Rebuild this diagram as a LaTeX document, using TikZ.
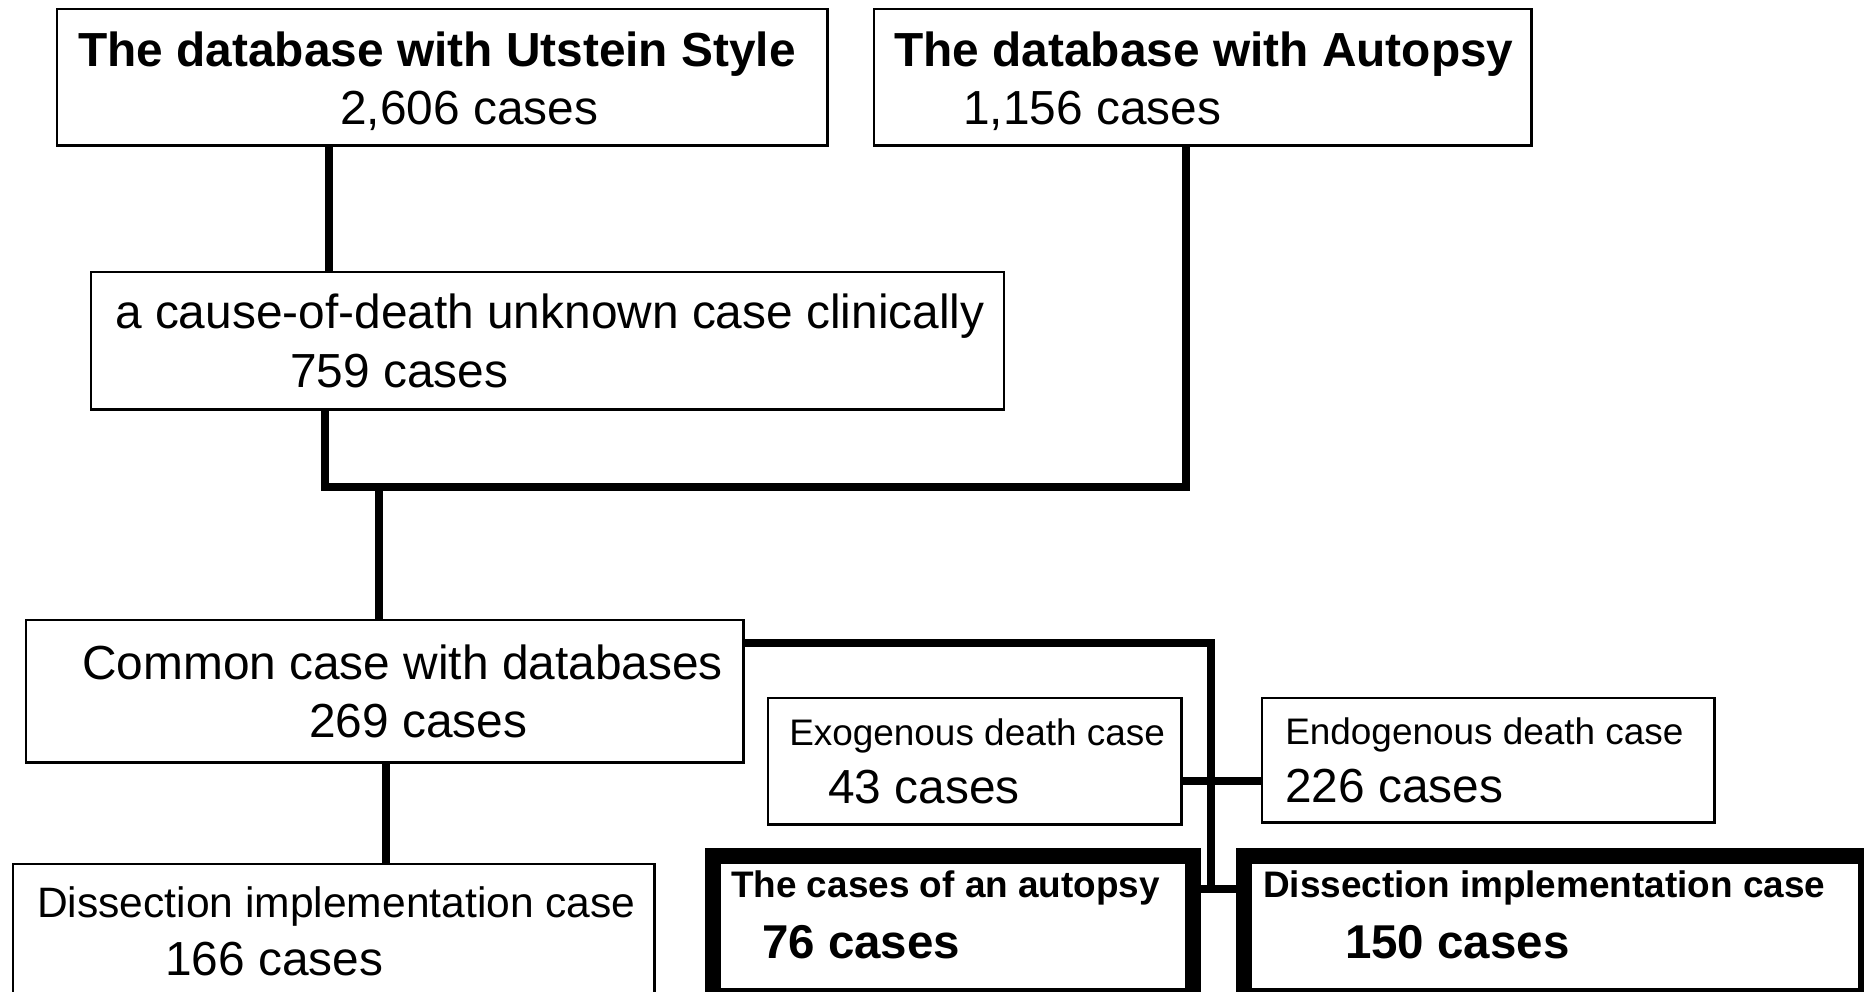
\documentclass[tikz,border=0pt]{standalone}
\usepackage{fontspec}
\setmainfont{Liberation Sans}
\newcommand{\lgtext}{\fontsize{13.6pt}{16.6pt}\selectfont}
\newcommand{\mdtext}{\fontsize{12.1pt}{16.6pt}\selectfont}
\newcommand{\smtext}{\fontsize{10.5pt}{16.6pt}\selectfont}

\begin{document}
\begin{tikzpicture}[x=0.01cm,y=-0.01cm,
  caserect/.style={draw, line width=0.7pt, anchor=north west, inner sep=0pt, align=left, font=\lgtext,
    execute at begin node={\spaceskip=0pt\xspaceskip=0pt\relax}},
  keyrect/.style={caserect, line width=4.6pt, font=\fontsize{13.5pt}{17.2pt}\selectfont\bfseries},
  link/.style={line width=2.1pt}]
\useasboundingbox (0,0) rectangle (1864,991);
\clip (0,0) rectangle (1864,991);

\node[caserect, text width=7.70cm, minimum height=1.36cm] (utst) at (56,8)
{\hspace*{0.21cm}\textbf{The database with Utstein Style}\rule{0pt}{0.42cm}\\
\hspace*{2.83cm}2,606 cases};
\node[caserect, text width=6.57cm, minimum height=1.36cm] (auto) at (873,8)
{\hspace*{0.20cm}\textbf{The database with Autopsy}\rule{0pt}{0.42cm}\\
\hspace*{0.89cm}1,156 cases};
\node[caserect, text width=9.12cm, minimum height=1.37cm] (unkn) at (90,271)
{\hspace*{0.24cm}a cause-of-death unknown case clinically\\
\hspace*{1.99cm}759 cases};
\node[caserect, text width=7.17cm, minimum height=1.42cm] (comm) at (25,619)
{\hspace*{0.56cm}Common case with databases\\
\hspace*{2.83cm}269 cases};
\node[caserect, text width=6.41cm, minimum height=1.34cm] (diss) at (12,863)
{\hspace*{0.24cm}{\mdtext Dissection implementation case}\\
\hspace*{1.52cm}166 cases};
\node[caserect, text width=4.13cm, minimum height=1.26cm] (exo) at (767,697)
{\hspace*{0.21cm}{\smtext Exogenous death case}\\
\hspace*{0.60cm}43 cases};
\node[caserect, text width=4.52cm, minimum height=1.24cm] (endo) at (1261,697)
{\hspace*{0.23cm}{\smtext Endogenous death case}\\
\hspace*{0.23cm}226 cases};
\node[keyrect, text width=4.80cm, minimum height=1.40cm] (aut) at (705,848)
{\hspace*{0.18cm}{\smtext The cases of an autopsy}\\
\hspace*{0.49cm}76 cases\rule[-0.23cm]{0pt}{0.23cm}};
\node[keyrect, text width=6.22cm, minimum height=1.40cm] (bdis) at (1236,848)
{\hspace*{0.19cm}{\smtext Dissection implementation case}\\
\hspace*{1.01cm}150 cases\rule[-0.23cm]{0pt}{0.23cm}};

\coordinate (ja) at (329,0);
\draw[link] (utst.south -| ja) -- (unkn.north -| ja);
\coordinate (jl) at (325,487);
\coordinate (jr) at (1186,487);
\draw[link] (unkn.south -| jl) -- (jl) -- (jr) -- (auto.south -| jr);
\coordinate (jm) at (379,487);
\draw[link] (jm) -- (comm.north -| jm);
\coordinate (jd) at (386,0);
\draw[link] (comm.south -| jd) -- (diss.north -| jd);
\coordinate (jt) at (1211,643);
\coordinate (jx) at (1211,781);
\coordinate (jb) at (1211,889);
\draw[link] (comm.east |- jt) -- (jt) -- (jb);
\draw[link] (exo.east |- jx) -- (endo.west |- jx);
\draw[link] (aut.east |- jb) -- (bdis.west |- jb);
\end{tikzpicture}
\end{document}
